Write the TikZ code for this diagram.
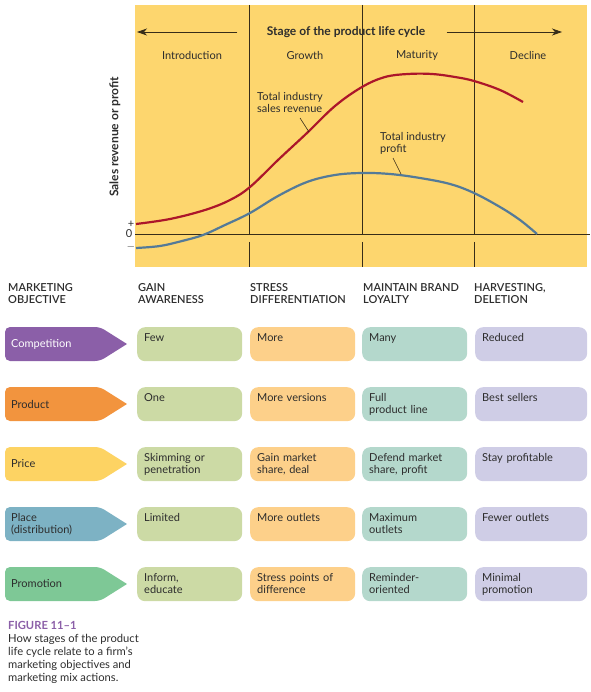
\documentclass[tikz,border=0pt]{standalone}
\usepackage{fontspec}
\setmainfont{Lato}
\newfontfamily\headfont{Lato Semibold}
\usetikzlibrary{arrows.meta}
\definecolor{chartbg}{RGB}{253,214,110}
\definecolor{revred}{RGB}{172,22,42}
\definecolor{profblue}{RGB}{84,122,152}
\definecolor{linedark}{RGB}{55,45,25}
\definecolor{inkgray}{RGB}{45,45,45}
\definecolor{compcol}{RGB}{139,95,168}
\definecolor{prodcol}{RGB}{242,148,62}
\definecolor{pricecol}{RGB}{253,211,99}
\definecolor{placecol}{RGB}{125,178,196}
\definecolor{promocol}{RGB}{126,200,150}
\definecolor{gaincol}{RGB}{204,218,165}
\definecolor{stresscol}{RGB}{253,208,138}
\definecolor{maintcol}{RGB}{180,216,204}
\definecolor{harvcol}{RGB}{207,205,230}
\begin{document}
\begin{tikzpicture}[x=1pt, y=-1pt, >={Stealth[length=10pt,width=7pt,inset=3pt]},
  every node/.style={font=\fontsize{11}{12}\selectfont, text=inkgray},
  bold label/.style={font=\fontsize{12}{14}\selectfont\bfseries},
  thin line/.style={draw=linedark, line width=0.8pt},
  head/.style={anchor=north west, align=left, inner sep=0pt},
  colhead/.style={head, font=\fontsize{11}{12}\selectfont\headfont},
  cell/.style={anchor=north west, rounded corners=8pt, minimum height=34pt,
    inner xsep=7pt, inner ysep=0pt, text width=91pt, align=left,
    text height=10pt, text depth=16pt},
  tag/.style={anchor=west, align=left, inner sep=0pt}]
  \useasboundingbox (0,0) rectangle (590,692);

  % chart area
  \fill[chartbg] (135,5) rectangle (587,267);
  \draw[thin line] (249,5) -- (249,234);
  \draw[thin line] (362,5) -- (362,234);
  \draw[thin line] (474,5) -- (474,234);
  \draw[thin line] (249,242) -- (249,267);
  \draw[thin line] (362,242) -- (362,267);
  \draw[thin line] (474,242) -- (474,267);
  \draw[thin line] (135,234) -- (590,234);

  \node[bold label] (stage) at (346,32) {Stage of the product life cycle};
  \coordinate (lefttip) at (137,32);
  \coordinate (righttip) at (562,32);
  \draw[thin line, ->] ([xshift=-26pt]stage.west) -- (lefttip);
  \draw[thin line, ->] ([xshift=18pt]stage.east) -- (righttip);

  \node (intro) at (192,55) {Introduction};
  \node (growth) at (305,55) {Growth};
  \node (maturity) at (417,55) {Maturity};
  \node (decline) at (528,55) {Decline};

  \node[rotate=90, bold label] (ylabel) at (115,137) {Sales revenue or profit};
  \node (plus) at (131,224) {+};
  \node (zero) at (129,234) {0};
  \node (minus) at (131,247) {$-$};

  % curves
  \draw[revred, line width=2.2pt] plot[smooth, tension=0.6] coordinates {
    (136,224) (170,219) (205,210) (230,200) (250,187) (278,160) (307,133)
    (335,106) (362,87) (385,77) (408,74) (432,74) (455,77) (474,81)
    (500,90) (523,102)};
  \draw[profblue, line width=2.2pt] plot[smooth, tension=0.6] coordinates {
    (136,248) (160,246) (182,241) (203,235) (225,225) (250,213) (278,196)
    (307,182) (335,175) (362,173) (390,174) (420,178) (450,184) (474,193)
    (500,207) (520,220) (537,234)};

  \node[head] (revlabel) at (257,92) {Total industry\\sales revenue};
  \coordinate (revtop) at (300,118);
  \coordinate (revpt) at (309,132);
  \draw[thin line, line width=0.6pt] (revtop) -- (revpt);
  \node[head] (proflabel) at (380,132) {Total industry\\profit};
  \coordinate (proftop) at (393,158);
  \coordinate (profpt) at (401,174);
  \draw[thin line, line width=0.6pt] (proftop) -- (profpt);

  % table heads
  \node[colhead] (mkthead) at (8,283) {MARKETING\\OBJECTIVE};
  \node[colhead] (gainhead) at (138,283) {GAIN\\AWARENESS};
  \node[colhead] (stresshead) at (250,283) {STRESS\\DIFFERENTIATION};
  \node[colhead] (mainthead) at (363,283) {MAINTAIN BRAND\\LOYALTY};
  \node[colhead] (harvhead) at (474,283) {HARVESTING,\\DELETION};

  % row tags
  \fill[compcol, rounded corners=5pt] (127,344) -- (100,327) -- (5,327) -- (5,361) -- (100,361) [sharp corners] -- cycle;
  \fill[prodcol, rounded corners=5pt] (127,404) -- (100,387) -- (5,387) -- (5,421) -- (100,421) [sharp corners] -- cycle;
  \fill[pricecol, rounded corners=5pt] (127,464) -- (100,447) -- (5,447) -- (5,481) -- (100,481) [sharp corners] -- cycle;
  \fill[placecol, rounded corners=5pt] (127,524) -- (100,507) -- (5,507) -- (5,541) -- (100,541) [sharp corners] -- cycle;
  \fill[promocol, rounded corners=5pt] (127,584) -- (100,567) -- (5,567) -- (5,601) -- (100,601) [sharp corners] -- cycle;
  \node[tag, text=white] (competition) at (11,344) {Competition};
  \node[tag] (product) at (11,404) {Product};
  \node[tag] (price) at (11,464) {Price};
  \node[tag] (place) at (11,524) {Place\\(distribution)};
  \node[tag] (promotion) at (11,584) {Promotion};

  % competition row
  \node[cell, fill=gaincol] (few) at (137,327) {Few};
  \node[cell, fill=stresscol] (more) at (250,327) {More};
  \node[cell, fill=maintcol] (many) at (362,327) {Many};
  \node[cell, fill=harvcol, text width=98pt] (reduced) at (475,327) {Reduced};
  % product row
  \node[cell, fill=gaincol] (one) at (137,387) {One};
  \node[cell, fill=stresscol] (versions) at (250,387) {More versions};
  \node[cell, fill=maintcol] (fullline) at (362,387) {Full\\product line};
  \node[cell, fill=harvcol, text width=98pt] (bestsell) at (475,387) {Best sellers};
  % price row
  \node[cell, fill=gaincol] (skimming) at (137,447) {Skimming or\\penetration};
  \node[cell, fill=stresscol] (gainshare) at (250,447) {Gain market\\share, deal};
  \node[cell, fill=maintcol] (defend) at (362,447) {Defend market\\share, profit};
  \node[cell, fill=harvcol, text width=98pt] (stayprof) at (475,447) {Stay profitable};
  % place row
  \node[cell, fill=gaincol] (limited) at (137,507) {Limited};
  \node[cell, fill=stresscol] (moreout) at (250,507) {More outlets};
  \node[cell, fill=maintcol] (maxout) at (362,507) {Maximum\\outlets};
  \node[cell, fill=harvcol, text width=98pt] (fewerout) at (475,507) {Fewer outlets};
  % promotion row
  \node[cell, fill=gaincol] (inform) at (137,567) {Inform,\\educate};
  \node[cell, fill=stresscol] (stresspts) at (250,567) {Stress points of\\difference};
  \node[cell, fill=maintcol] (reminder) at (362,567) {Reminder-\\oriented};
  \node[cell, fill=harvcol, text width=98pt] (minimal) at (475,567) {Minimal\\promotion};

  % caption
  \node[head, font=\fontsize{11.2}{13}\selectfont] (caption) at (8,621) {\textcolor{compcol}{\bfseries FIGURE 11–1}\\How stages of the product\\life cycle relate to a firm’s\\marketing objectives and\\marketing mix actions.};
\end{tikzpicture}
\end{document}
